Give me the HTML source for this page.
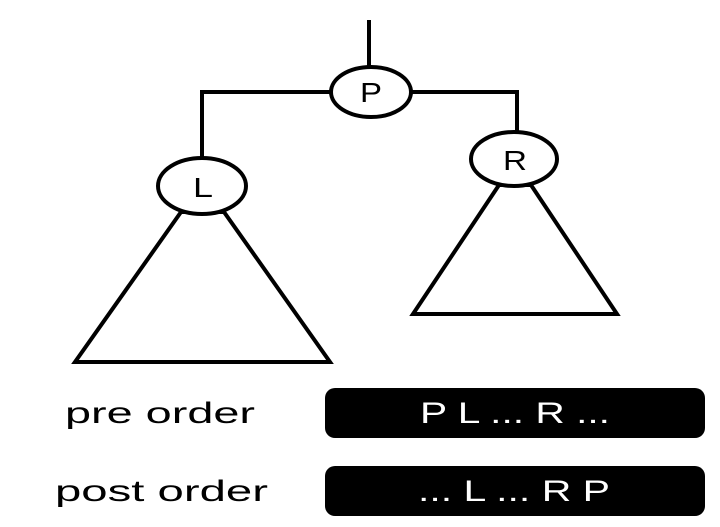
<!DOCTYPE html>
<html><head><style>
html,body{margin:0;padding:0;background:#fff;width:720px;height:527px;overflow:hidden}
</style></head><body>
<svg width="720" height="527" viewBox="0 0 720 527" xmlns="http://www.w3.org/2000/svg" font-family="Liberation Sans, sans-serif">
<g stroke="#000" stroke-width="4" fill="none">
<line x1="369" y1="20" x2="369" y2="66"/>
<polyline points="331,92 202,92 202,157"/>
<polyline points="411,92 517,92 517,131"/>
<polygon points="181,212 75,362 330,362 224,212" fill="#fff"/>
<polygon points="499,185 413,314 617,314 531,185" fill="#fff"/>
<ellipse cx="371" cy="92" rx="40" ry="25" fill="#fff"/>
<ellipse cx="514" cy="159" rx="43" ry="27" fill="#fff"/>
<ellipse cx="202" cy="186" rx="44" ry="28" fill="#fff"/>
</g>
<g font-size="28" text-anchor="middle" fill="#000">
<text x="371" y="102" textLength="22" lengthAdjust="spacingAndGlyphs">P</text>
<text x="515" y="170" textLength="24" lengthAdjust="spacingAndGlyphs">R</text>
<text x="203" y="197" textLength="20" lengthAdjust="spacingAndGlyphs">L</text>
</g>
<rect x="325" y="388" width="380" height="50" rx="10" fill="#000"/>
<rect x="325" y="466" width="380" height="50" rx="10" fill="#000"/>
<g font-size="30" fill="#000">
<text x="65" y="423" textLength="190" lengthAdjust="spacingAndGlyphs">pre order</text>
<text x="55" y="501" textLength="213" lengthAdjust="spacingAndGlyphs">post order</text>
</g>
<g font-size="30" fill="#fff">
<text x="420" y="423" textLength="190" lengthAdjust="spacingAndGlyphs">P L ... R ...</text>
<text x="418" y="501" textLength="192" lengthAdjust="spacingAndGlyphs">... L ... R P</text>
</g>
</svg>
</body></html>
